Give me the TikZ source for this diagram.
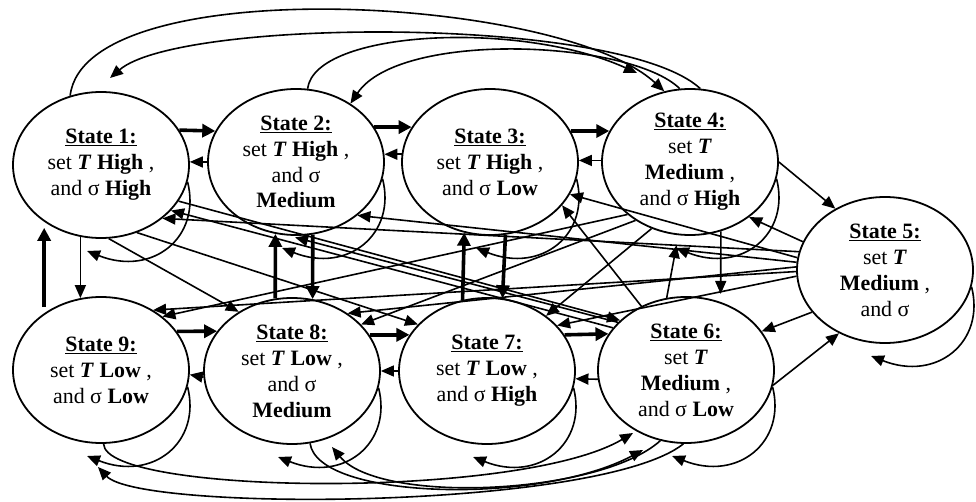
\documentclass[tikz,border=0pt]{standalone}
\usepackage{fontspec}
\setmainfont{Liberation Serif}
\usetikzlibrary{arrows.meta,shapes.geometric}
\newcommand{\TT}{\textbf{\textit{T}}}
\begin{document}
\begin{tikzpicture}[x=1bp,y=-1bp,
  st/.style={ellipse, draw, line width=1.8bp, minimum width=176bp, minimum height=146bp, inner sep=0pt, align=center, font=\fontsize{22}{26}\selectfont},
  ln/.style={line width=1.6bp, -{Triangle[length=13bp,width=11bp]}},
  tk/.style={line width=3.6bp, -{Triangle[length=13bp,width=13bp]}}]
\useasboundingbox (0,0) rectangle (976,502);
% states
\node[st] (s1) at (101,165) {\underline{\textbf{State 1:}}\\ set \TT{} \textbf{High} ,\\ and σ \textbf{High}};
\node[st] (s2) at (296,162) {\underline{\textbf{State 2:}}\\ set \TT{} \textbf{High} ,\\ and σ\\ \textbf{Medium}};
\node[st] (s3) at (490,162) {\underline{\textbf{State 3:}}\\ set \TT{} \textbf{High} ,\\ and σ \textbf{Low}};
\node[st] (s4) at (690,162) {\underline{\textbf{State 4:}}\\ set \TT\\ \textbf{Medium} ,\\ and σ \textbf{High}};
\node[st] (s5) at (885,270) {\underline{\textbf{State 5:}}\\ set \TT\\ \textbf{Medium} ,\\ and σ};
\node[st] (s6) at (686,370) {\underline{\textbf{State 6:}}\\ set \TT\\ \textbf{Medium} ,\\ and σ \textbf{Low}};
\node[st] (s7) at (487,371) {\underline{\textbf{State 7:}}\\ set \TT{} \textbf{Low} ,\\ and σ \textbf{High}};
\node[st] (s8) at (292,371) {\underline{\textbf{State 8:}}\\ set \TT{} \textbf{Low} ,\\ and σ\\ \textbf{Medium}};
\node[st] (s9) at (101,370) {\underline{\textbf{State 9:}}\\ set \TT{} \textbf{Low} ,\\ and σ \textbf{Low}};
% thick arrows
\draw[tk] (s1.24) -- (s2.159);
\draw[tk] (s2.24) -- (s3.156);
\draw[tk] (s3.21) -- (s4.159);
\draw[tk] (s9.27) -- (s8.152);
\draw[tk] (s8.25) -- (s7.155);
\draw[tk] (s7.25) -- (s6.155);
\draw[tk, shorten <=6bp, shorten >=6bp] (s9.135) -- (s1.-135);
\draw[tk] (s8.103) -- (s2.-106);
\draw[tk] (s2.-77) -- (s8.74);
\draw[tk] (s7.109) -- (s3.-110);
\draw[tk] (s3.-78) -- (s7.78);
% short back arrows
\draw[ln] (s2.180) -- (s1.2);
\draw[ln] (s3.175) -- (s2.5);
\draw[ln] (s4.179) -- (s3.1);
\draw[ln] (s8.184) -- (s9.-3);
\draw[ln] (s7.180) -- (s8.0);
\draw[ln] (s6.186) -- (s7.-5);
% vertical thin
\draw[ln] (s1.-106) -- (s9.106);
\draw[ln, shorten >=8bp] (s4.-66) -- (s6.63);
\draw[ln, shorten >=10bp] (s6.105) -- (s4.-99);
% state 5 links
\draw[ln] (s4.0) -- (s5.129);
\draw[ln] (s5.161) -- (s4.-43);
\draw[ln] (s5.-150) -- (s6.27);
\draw[ln] (s6.-10) -- (s5.-126);
% self loops
\foreach \n in {1,...,9}
  \draw[ln] (s\n.-11) .. controls +(14,55) and +(66,26) .. ([shift={(-14,86)}]s\n.center);
% top arcs
\draw[ln] (s1.114) .. controls (85,-30) and (560,-5) .. (s4.110);
\draw[ln] (s4.82) .. controls (620,15) and (180,18) .. ([shift={(9,-87)}]s1.center);
\draw[ln] (s2.81) .. controls (315,30) and (520,20) .. ([shift={(-53,-89)}]s4.center);
\draw[ln] (s4.98) .. controls (630,40) and (400,30) .. (s2.47);
% bottom arcs
\draw[ln] (s9.-88) .. controls (105,495) and (520,500) .. ([shift={(-53,63)}]s6.center);
\draw[ln] (s8.-76) .. controls (318,500) and (540,505) .. ([shift={(-43,80)}]s6.center);
\draw[ln] (s6.-110) .. controls (600,495) and (380,505) .. ([shift={(40,76)}]s8.center);
\draw[ln] (s6.-92) .. controls (600,510) and (140,512) .. ([shift={(-3,97)}]s9.center);
% diagonals
\draw[ln] (s1.-84) -- (s8.132);
\draw[ln] (s1.-62) -- (s7.146);
\draw[ln] (s1.-25) -- (s6.143);
\draw[ln] (s6.150) -- (s1.-33);
\draw[ln] (s5.168) -- (s1.-41);
\draw[ln] (s5.175) -- (s2.-41);
\draw[ln] (s5.172) -- (s3.-22);
\draw[ln] (s5.181) -- (s9.49);
\draw[ln] (s5.178) -- (s8.46);
\draw[ln] (s5.184) -- (s7.33);
\draw[ln] (s4.-140) -- (s9.41);
\draw[ln] (s4.-133) -- (s8.34);
\draw[ln] (s4.-120) -- (s7.43);
\draw[ln] (s6.125) -- (s3.-31);
\draw[ln, shorten >=7bp] (s6.145) -- (s2.-96);
\end{tikzpicture}
\end{document}
